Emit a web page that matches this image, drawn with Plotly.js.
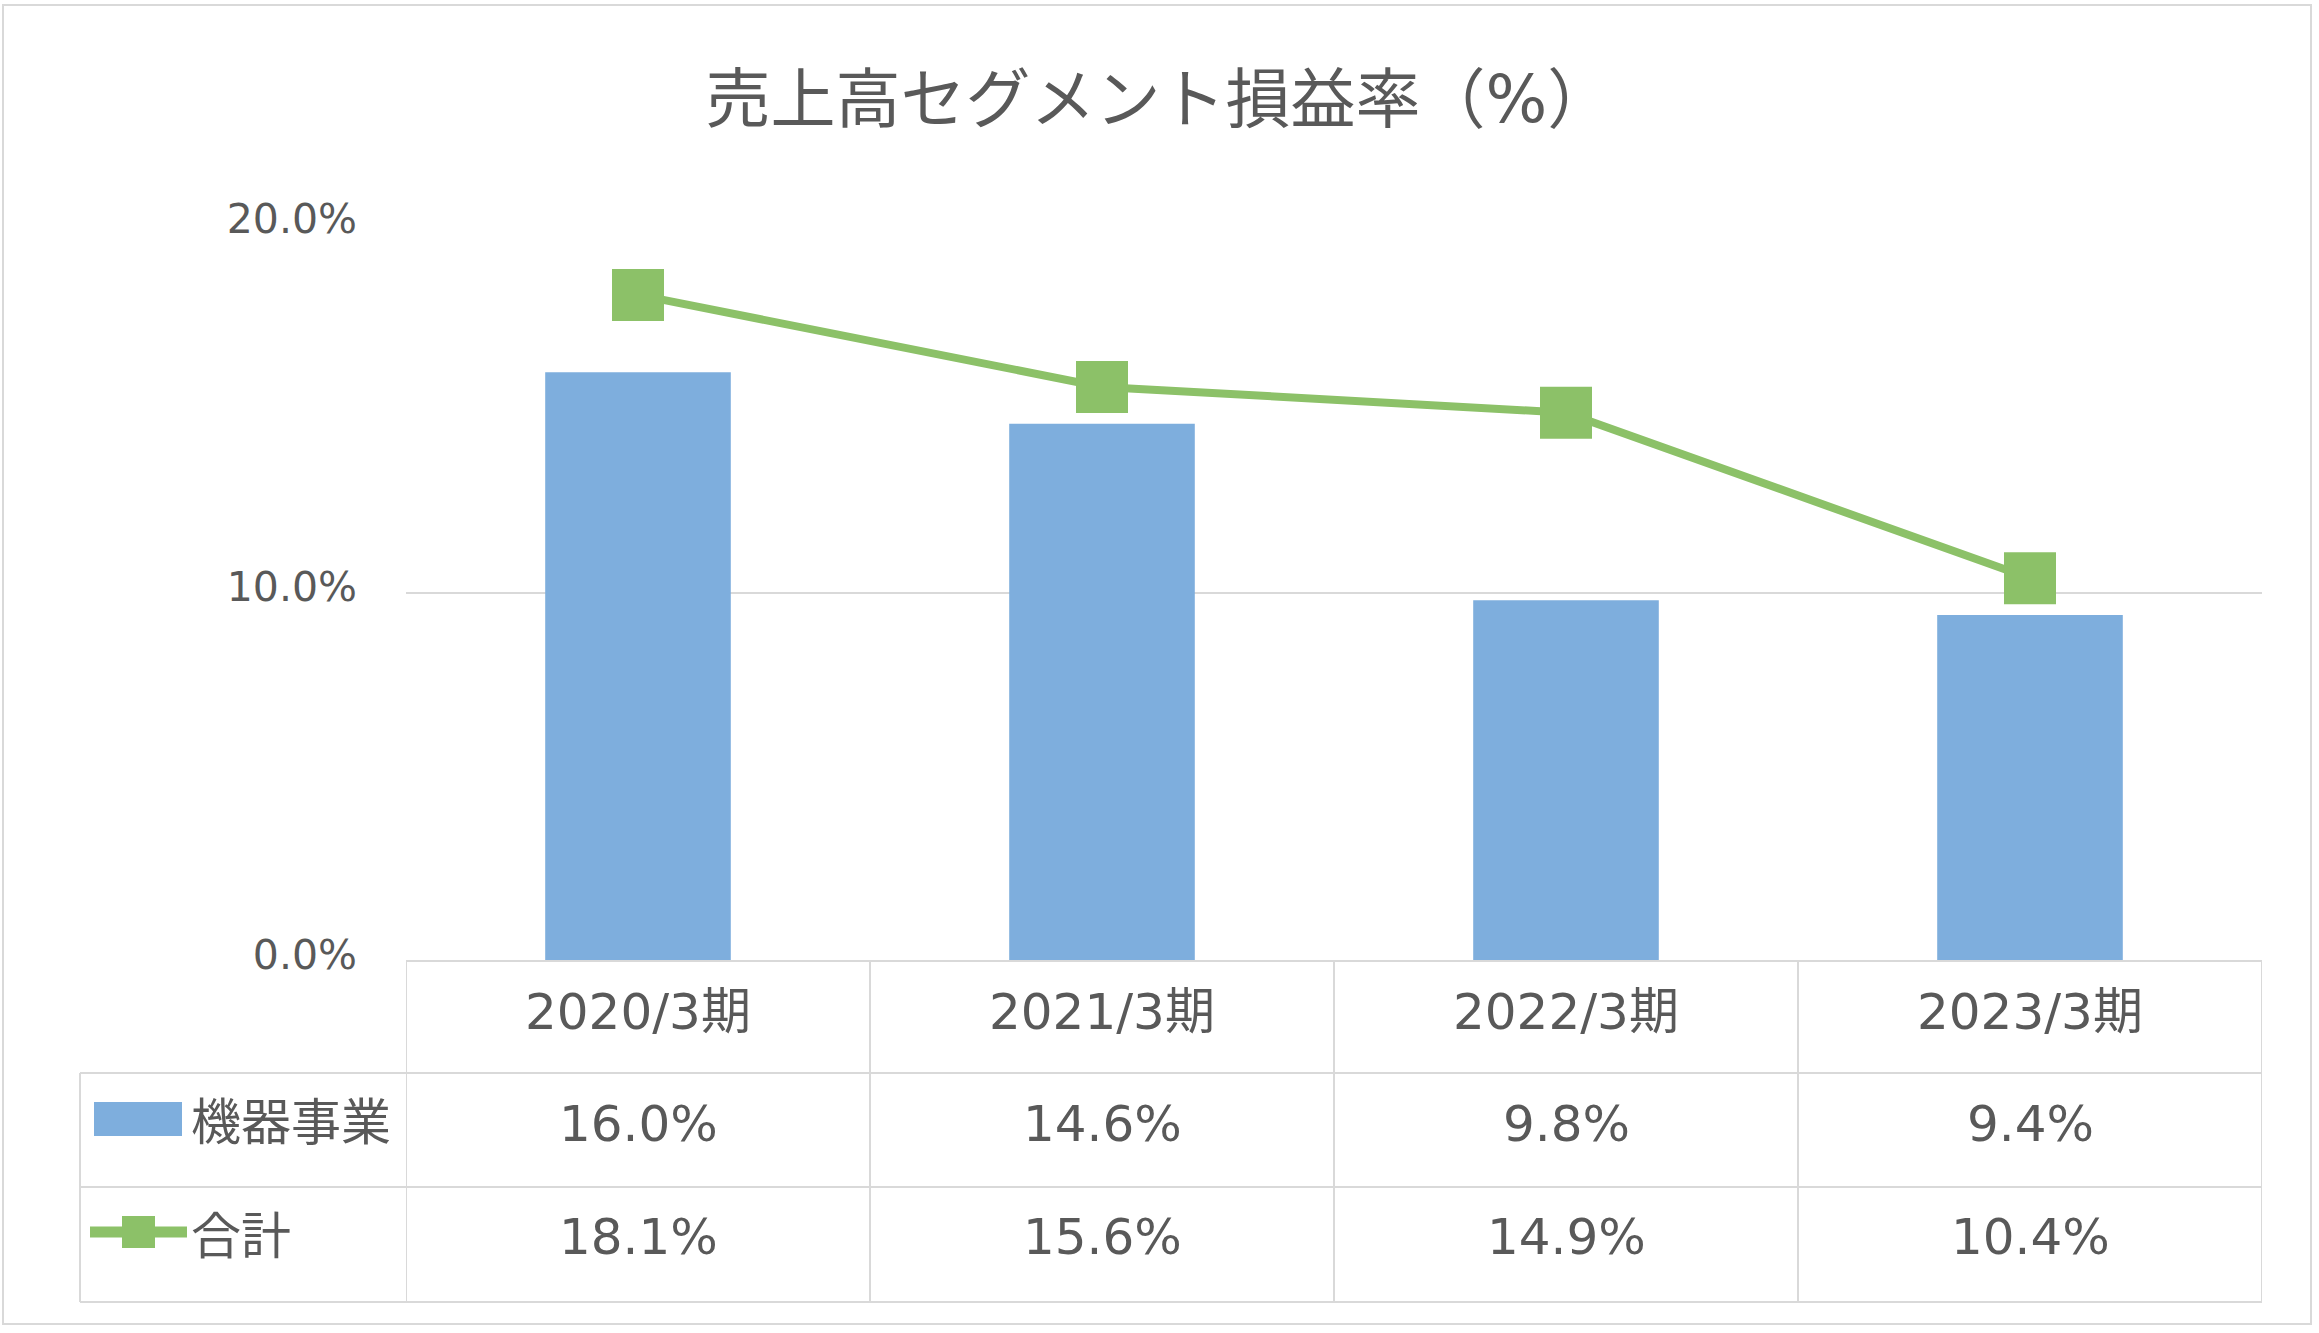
<!DOCTYPE html>
<html>
<head>
<meta charset="utf-8">
<script src="https://cdn.plot.ly/plotly-3.0.1.min.js"></script>
<style>html,body{margin:0;padding:0;background:#fff;}</style>
</head>
<body>
<div id="chart" style="width:2319px;height:1333px;"></div>
<script>
// ---- data ----
const categories = ['2020/3期', '2021/3期', '2022/3期', '2023/3期'];
const seriesNames = ['機器事業', '合計'];
const kikiValues = [16.0, 14.6, 9.8, 9.4];
const totalValues = [18.1, 15.6, 14.9, 10.4];
const yTickValues = [0, 10, 20];
const chartTitle = '売上高セグメント損益率（%）';

// ---- style ----
const BLUE = '#7EAEDD';
const GREEN = '#8CC168';
const TEXT = '#595959';
const GRID = '#D9D9D9';
const FONT = 'DejaVu Sans, "Noto Sans CJK JP", sans-serif';

const W = 2319, H = 1333;
const L = 406, R = 2262, T = 225, B = 961;
const pw = R - L, ph = B - T;
const px = x => (x - L) / pw;        // pixel -> paper x
const py = y => (B - y) / ph;        // pixel -> paper y

const fmt = v => v.toFixed(1) + '%';

const traces = [
  {
    type: 'bar', name: seriesNames[0], x: categories, y: kikiValues,
    marker: {color: BLUE}, width: 0.4, hoverinfo: 'skip'
  },
  {
    type: 'scatter', mode: 'lines+markers', name: seriesNames[1], x: categories, y: totalValues,
    line: {color: GREEN, width: 8},
    marker: {symbol: 'square', size: 52, color: GREEN}, hoverinfo: 'skip'
  }
];

// table geometry (pixels)
const rowY = [961, 1073, 1187, 1302];
const tableLeft = 80;

const shapes = [];
const lineStyle = {color: GRID, width: 2};
// outer border
shapes.push({type: 'rect', xref: 'paper', yref: 'paper', x0: px(3), x1: px(2311), y0: py(5), y1: py(1324), line: {color: GRID, width: 2}, layer: 'below'});
// horizontal table lines
shapes.push({type: 'line', xref: 'paper', yref: 'paper', x0: px(L), x1: px(R), y0: py(rowY[0]), y1: py(rowY[0]), line: lineStyle});
for (let i = 1; i < rowY.length; i++) {
  shapes.push({type: 'line', xref: 'paper', yref: 'paper', x0: px(tableLeft), x1: px(R), y0: py(rowY[i]), y1: py(rowY[i]), line: lineStyle});
}
// vertical lines at category boundaries
for (let i = 0; i <= categories.length; i++) {
  shapes.push({type: 'line', xref: 'x', yref: 'paper', x0: i - 0.5, x1: i - 0.5, y0: py(rowY[0]), y1: py(rowY[3]), line: lineStyle});
}
shapes.push({type: 'line', xref: 'paper', yref: 'paper', x0: px(tableLeft), x1: px(tableLeft), y0: py(rowY[1]), y1: py(rowY[3]), line: lineStyle});
// legend glyphs
shapes.push({type: 'rect', xref: 'paper', yref: 'paper', x0: px(94), x1: px(182), y0: py(1102), y1: py(1136), fillcolor: BLUE, line: {width: 0}});
shapes.push({type: 'line', xref: 'paper', yref: 'paper', x0: px(90), x1: px(187), y0: py(1232), y1: py(1232), line: {color: GREEN, width: 11}});
shapes.push({type: 'rect', xref: 'paper', yref: 'paper', x0: px(122), x1: px(155), y0: py(1216), y1: py(1248), fillcolor: GREEN, line: {width: 0}});

const annotations = [];
const cellFont = {family: FONT, size: 50, color: TEXT};
categories.forEach((c, i) => {
  annotations.push({xref: 'x', yref: 'paper', x: c, y: py(1012), text: c, showarrow: false, xanchor: 'center', yanchor: 'middle', font: cellFont});
  annotations.push({xref: 'x', yref: 'paper', x: c, y: py(1124), text: fmt(kikiValues[i]), showarrow: false, xanchor: 'center', yanchor: 'middle', font: cellFont});
  annotations.push({xref: 'x', yref: 'paper', x: c, y: py(1237), text: fmt(totalValues[i]), showarrow: false, xanchor: 'center', yanchor: 'middle', font: cellFont});
});
annotations.push({xref: 'paper', yref: 'paper', x: px(189), y: py(1123), text: seriesNames[0], showarrow: false, xanchor: 'left', yanchor: 'middle', font: cellFont});
annotations.push({xref: 'paper', yref: 'paper', x: px(189), y: py(1237), text: seriesNames[1], showarrow: false, xanchor: 'left', yanchor: 'middle', font: cellFont});

const layout = {
  width: W, height: H,
  margin: {l: L, r: W - R, t: T, b: H - B, pad: 0},
  paper_bgcolor: '#ffffff', plot_bgcolor: '#ffffff',
  showlegend: false,
  title: {
    text: chartTitle, x: 1159 / W, xref: 'container', xanchor: 'center',
    y: 1 - 99 / H, yref: 'container', yanchor: 'middle',
    font: {family: FONT, size: 65, color: TEXT}
  },
  xaxis: {
    type: 'category', categoryorder: 'array', categoryarray: categories,
    range: [-0.5, categories.length - 0.5],
    showticklabels: false, showgrid: false, zeroline: false, showline: false, ticks: ''
  },
  yaxis: {
    range: [0, 20], tickmode: 'array', tickvals: yTickValues, ticktext: yTickValues.map(fmt),
    showgrid: true, gridcolor: GRID, gridwidth: 2, zeroline: false, showline: false,
    ticks: '', ticklabelstandoff: 48, ticklabelshift: -6,
    tickfont: {family: FONT, size: 41, color: TEXT}
  },
  shapes: shapes,
  annotations: annotations,
  bargap: 0.6
};

Plotly.newPlot('chart', traces, layout, {displayModeBar: false, staticPlot: true});
</script>
</body>
</html>
